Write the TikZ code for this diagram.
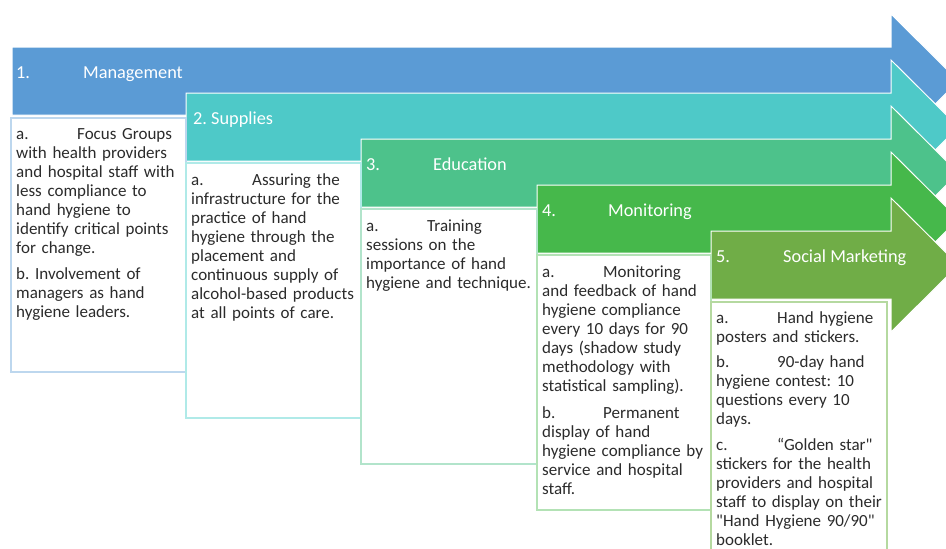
\documentclass[tikz,border=0pt]{standalone}
\usepackage{fontspec}
\setmainfont{Carlito}
\newfontfamily\cf{Carlito}
\definecolor{cA}{HTML}{5B9BD5}
\definecolor{cB}{HTML}{4EC9C8}
\definecolor{cC}{HTML}{4DC28B}
\definecolor{cD}{HTML}{46B84B}
\definecolor{cE}{HTML}{70AD47}
\definecolor{bA}{HTML}{BDD7EE}
\definecolor{bB}{HTML}{B0EAE8}
\definecolor{bC}{HTML}{B2E4CB}
\definecolor{bD}{HTML}{B3E2B5}
\definecolor{bE}{HTML}{B5D9A0}
\definecolor{txt}{HTML}{2B2B2B}
\newcommand{\tb}[1]{\makebox[61pt][l]{#1}}
\tikzset{
  arrowshape/.style={draw=white, line width=1pt},
  textbox/.style={line width=1.3pt, fill=white},
  title/.style={anchor=base west, inner sep=0pt, text=white, font=\cf\frenchspacing\fontsize{18.3}{22}\selectfont},
  body/.style={anchor=north west, inner sep=0pt, text=txt, text width=170pt, align=left, font=\cf\frenchspacing\fontsize{17}{19}\selectfont}
}
\begin{document}
\begin{tikzpicture}[x=1pt,y=-1pt]
\useasboundingbox (0,0) rectangle (946,549);
\clip (0,0) rectangle (946,549);
% arrows
\foreach \xl/\yt/\col in {12/47/cA, 186/93/cB, 361/139/cC, 537/185/cD, 711/231/cE}{
  \fill[\col, arrowshape] (\xl,\yt) -- (891,\yt) -- (891,\yt-33) -- (958.5,\yt+34) -- (891,\yt+101) -- (891,\yt+68) -- (\xl,\yt+68) -- cycle;
}
% titles
\node[title] (t1n) at (16,78) {1.};
\node[title] (t1) at (83,78) {Management};
\node[title] (t2) at (193,124) {2. Supplies};
\node[title] (t3n) at (366,170) {3.};
\node[title] (t3) at (433,170) {Education};
\node[title] (t4n) at (542,216) {4.};
\node[title] (t4) at (608,216) {Monitoring};
\node[title] (t5n) at (716,262) {5.};
\node[title] (t5) at (783,262) {Social Marketing};
% boxes
\draw[textbox, draw=bA] (11,118) rectangle (186,372);
\draw[textbox, draw=bB] (186,163) rectangle (361,418);
\draw[textbox, draw=bC] (361,209) rectangle (537,464);
\draw[textbox, draw=bD] (537,255) rectangle (711,510);
\draw[textbox, draw=bE] (711,302) rectangle (887,560);
% texts
\node[body] (x1) at (16,125.7) {\strut\tb{a.}Focus Groups\\with health providers\\and hospital staff with\\less compliance to\\hand hygiene to\\identify critical points\\for change.\\[7pt]b. Involvement of\\managers as hand\\hygiene leaders.};
\node[body] (x2) at (191,171.7) {\strut\tb{a.}Assuring the\\infrastructure for the\\practice of hand\\hygiene through the\\placement and\\continuous supply of\\alcohol-based products\\at all points of care.};
\node[body] (x3) at (366,217.7) {\strut\tb{a.}Training\\sessions on the\\importance of hand\\hygiene and technique.};
\node[body] (x4) at (542,263.7) {\strut\tb{a.}Monitoring\\and feedback of hand\\hygiene compliance\\every 10 days for 90\\days (shadow study\\methodology with\\statistical sampling).\\[8pt]\tb{b.}Permanent\\display of hand\\hygiene compliance by\\service and hospital\\staff.};
\node[body] (x5) at (716,309.7) {\strut\tb{a.}Hand hygiene\\posters and stickers.\\[6pt]\tb{b.}90-day hand\\hygiene contest: 10\\questions every 10\\days.\\[7pt]\tb{c.}“Golden star"\\stickers for the health\\providers and hospital\\staff to display on their\\"Hand Hygiene 90/90"\\booklet.};
\end{tikzpicture}
\end{document}
